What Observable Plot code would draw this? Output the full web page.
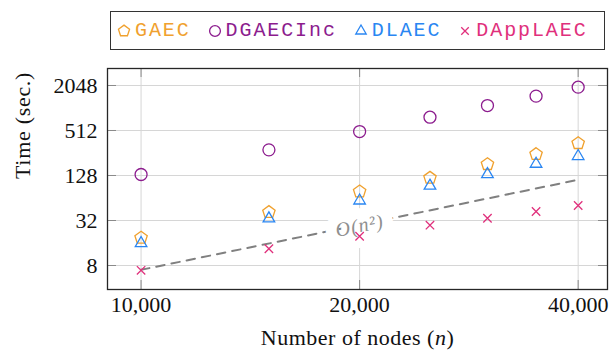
<!DOCTYPE html>
<html>
<head>
<meta charset="utf-8">
<script src="https://cdn.jsdelivr.net/npm/d3@7"></script>
<script src="https://cdn.jsdelivr.net/npm/@observablehq/plot@0.6"></script>
<style>
  html, body { margin: 0; padding: 0; background: #fff; }
  #wrap { position: relative; width: 613px; height: 356px; overflow: hidden; }
  #legend {
    position: absolute; left: 110px; top: 11px; width: 495px; height: 39px;
    box-sizing: border-box; border: 1.3px solid #333; background: #fff;
    display: flex; align-items: center; padding-left: 6px;
    font-family: "Liberation Mono", "DejaVu Sans Mono", monospace; font-size: 20px; letter-spacing: 1.9px;
  }
  .item { display: flex; align-items: center; margin-right: 17px; }
  .item svg { margin-right: 4px; overflow: visible; }
  #chart { position: absolute; left: 0; top: 0; }
</style>
</head>
<body>
<div id="wrap">
  <div id="chart"></div>
  <div id="legend"></div>
</div>
<script>
// ---- data ----
const nodes    = [10000, 15000, 20000, 25000, 30000, 35000, 40000];
const gaec     = [18.8, 41.4, 78, 119, 181, 247, 346];
const dgaecinc = [132, 282, 496, 771, 1105, 1475, 1945];
const dlaec    = [15.9, 34, 59, 93, 133, 183, 232];
const dapplaec = [6.9, 13.4, 19.7, 27.7, 34.3, 42.2, 50.8];
const seriesNames = ["GAEC", "DGAECInc", "DLAEC", "DAppLAEC"];
const refN    = [10000, 40000];
const refTime = [7, 112];
const refLabelN = [20000];
const refLabelTime = [28];
const refLabelText = ["O(n²)"];
const xTicks = [10000, 20000, 40000];
const yTicks = [8, 32, 128, 512, 2048];

// ---- styles ----
const colors = {GAEC: "#f0a12e", DGAECInc: "#8c1c8e", DLAEC: "#2a86f2", DAppLAEC: "#e0307c"};
const pentagon = {
  draw(ctx, size) {
    const R = Math.sqrt(size / Math.PI);
    for (let k = 0; k < 5; k++) {
      const a = -Math.PI / 2 + k * 2 * Math.PI / 5;
      const px = R * Math.cos(a), py = R * Math.sin(a);
      if (k) ctx.lineTo(px, py); else ctx.moveTo(px, py);
    }
    ctx.closePath();
  }
};
const symbols = {GAEC: pentagon, DGAECInc: d3.symbolCircle, DLAEC: d3.symbolTriangle, DAppLAEC: d3.symbolTimes};
const radii = {GAEC: 6.5, DGAECInc: 6, DLAEC: 4.3, DAppLAEC: 3.9};

const values = {GAEC: gaec, DGAECInc: dgaecinc, DLAEC: dlaec, DAppLAEC: dapplaec};
const table = nodes.map((n, i) => {
  const row = {n};
  for (const s of seriesNames) row[s] = values[s][i];
  return row;
});
const refLine = refN.map((n, i) => ({n, t: refTime[i]}));
const refLabel = refLabelN.map((n, i) => ({n, t: refLabelTime[i], label: refLabelText[i]}));

const W = 613, H = 356, mL = 107, mR = 6, mT = 68, mB = 67;
const innerW = W - mL - mR, innerH = H - mT - mB;
const tickLen = 9;
const gridColor = "#d6d6d6", tickColor = "#8a8a8a";

const plot = Plot.plot({
  width: W, height: H,
  marginLeft: mL, marginRight: mR, marginTop: mT, marginBottom: mB,
  style: {fontFamily: "Liberation Serif, serif", fontSize: "22px", color: "#111", background: "white"},
  x: {type: "log", domain: [8990, 43900], ticks: xTicks, tickFormat: d3.format(","), tickSize: 0, tickPadding: 7, label: null},
  y: {type: "log", base: 2, domain: [3.82, 3457], ticks: yTicks, tickFormat: d => String(d), tickSize: 0, tickPadding: 10, label: null},
  marks: [
    Plot.ruleY(yTicks, {stroke: gridColor, strokeWidth: 1}),
    Plot.ruleX(xTicks, {stroke: gridColor, strokeWidth: 1}),
    Plot.tickY(yTicks, {insetRight: innerW - tickLen, stroke: tickColor}),
    Plot.tickY(yTicks, {insetLeft: innerW - tickLen, stroke: tickColor}),
    Plot.tickX(xTicks, {insetTop: innerH - tickLen, stroke: tickColor}),
    Plot.tickX(xTicks, {insetBottom: innerH - tickLen, stroke: tickColor}),
    Plot.line(refLine, {x: "n", y: "t", stroke: "#808080", strokeWidth: 2, strokeDasharray: "8.5,7"}),
    Plot.text(refLabel, {x: "n", y: "t", text: "label", rotate: -11.6, fill: "#8f8f8f", stroke: "white", strokeWidth: 22, fontSize: 20, fontStyle: "italic", dy: 1, className: "oref"}),
    ...seriesNames.map(s => Plot.dot(table, {
      x: "n", y: s, symbol: symbols[s], r: radii[s],
      stroke: colors[s], strokeWidth: 1.3, fill: "none"
    })),
    Plot.frame({stroke: "#262626", strokeWidth: 1.3}),
    Plot.text(["Number of nodes (n)"], {frameAnchor: "bottom", dy: 55, fontSize: 22, fill: "#111", className: "xlab"}),
    Plot.text(["Time (sec.)"], {frameAnchor: "left", dx: -85, rotate: -90, fontSize: 22, fill: "#111", className: "ylab"})
  ]
});
document.getElementById("chart").appendChild(plot);

// italic n in the x-axis title; slight letter spacing to match the reference widths
plot.querySelectorAll("text").forEach(t => {
  if (t.textContent === "Number of nodes (n)") {
    t.innerHTML = 'Number of nodes (<tspan font-style="italic">n</tspan>)';
    t.setAttribute("letter-spacing", "0.5");
  } else if (t.textContent === "Time (sec.)") {
    t.setAttribute("letter-spacing", "0.7");
  } else if (t.textContent === "O(n²)") {
    t.setAttribute("letter-spacing", "1");
  }
});

// legend
const legend = document.getElementById("legend");
for (const s of seriesNames) {
  const item = document.createElement("div");
  item.className = "item";
  const size = Math.PI * Math.pow(radii[s] * 0.9, 2);
  const path = d3.symbol(symbols[s], size)();
  item.innerHTML = `<svg width="14" height="14" viewBox="-7 -7 14 14"><path d="${path}" fill="none" stroke="${colors[s]}" stroke-width="1.3"/></svg><span style="color:${colors[s]}">${s}</span>`;
  legend.appendChild(item);
}
</script>
</body>
</html>
